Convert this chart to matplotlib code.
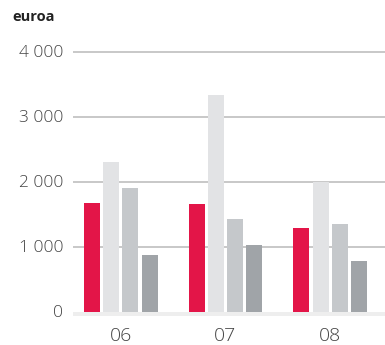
import numpy as np
import matplotlib.pyplot as plt
from matplotlib.transforms import ScaledTranslation

# yearly values, four series per year
years = ['06', '07', '08']
series_a = [1670, 1655, 1285]
series_b = [2315, 3340, 1995]
series_c = [1900, 1425, 1350]
series_d = [875, 1025, 780]
yticks = [0, 1000, 2000, 3000, 4000]
ytick_labels = ['0', '1 000', '2 000', '3 000', '4 000']

colors = ['#e31548', '#e2e3e5', '#c5c8cb', '#a0a4a8']

plt.rcParams['font.family'] = ['Open Sans', 'DejaVu Sans']

fig = plt.figure(figsize=(3.85, 3.45), dpi=100)
# axes placed in pixel terms: left 73, right 385, bottom 316, top 45
W, H = 385, 345
ax = fig.add_axes([73/W, (H-316)/H, (385-73)/W, (316-45.5)/H])

ppu = 261/4000  # pixels per unit
ax.set_ylim(-4/ppu, 4000 + 6.5/ppu)
ax.set_xlim(-0.459, 2.526)

x = np.arange(len(years))
width, step = 0.153, 0.182
for i, (vals, c) in enumerate(zip([series_a, series_b, series_c, series_d], colors)):
    ax.bar(x + (i - 1.5)*step, vals, width, color=c, zorder=3)

# gridlines and baseline band
for t in yticks[1:]:
    ax.axhline(t, color='#c4c4c4', lw=1.3, zorder=1)
ax.axhspan(-4/ppu, 0, color='#eeeeee', lw=0, zorder=2)

for s in ax.spines.values():
    s.set_visible(False)

ax.set_yticks(yticks)
ax.set_yticklabels(ytick_labels, fontsize=12.5, color='#444444', fontweight='light')
ax.tick_params(axis='y', length=0, pad=7)
for lbl in ax.get_yticklabels():
    lbl.set_transform(lbl.get_transform() + ScaledTranslation(0, 1/72, fig.dpi_scale_trans))

ax.set_xticks(x)
ax.set_xticklabels(years, fontsize=14, color='#444444', fontweight='light')
ax.tick_params(axis='x', length=0, pad=8)

fig.text(12/W, 1 - 17/H, 'euroa', fontsize=10.5, fontweight='bold', color='#222222',
         va='center', ha='left')

fig.savefig('out.png', dpi=100)
